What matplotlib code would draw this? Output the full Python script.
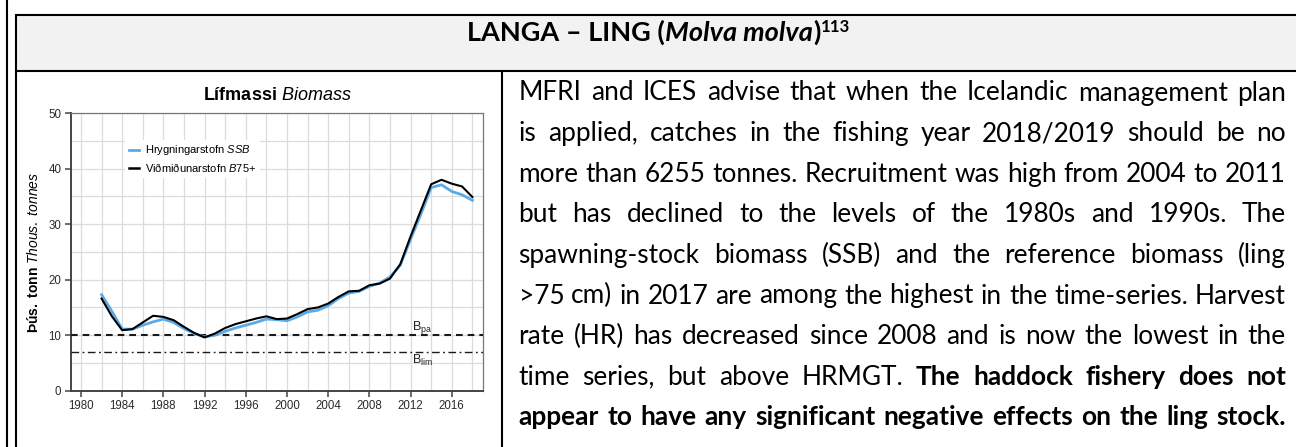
import matplotlib
matplotlib.use('Agg')
import matplotlib.pyplot as plt
from matplotlib.patches import Rectangle
from matplotlib.lines import Line2D

# ---------------- data ----------------
years = list(range(1982, 2019))
ssb = [17.3, 14.3, 11.1, 11.1, 11.8, 12.4, 12.9, 12.3, 11.2, 10.3,
       9.7, 10.0, 10.7, 11.3, 11.8, 12.3, 12.9, 12.8, 12.6, 13.3,
       14.2, 14.5, 15.3, 16.6, 17.6, 17.9, 18.8, 19.4, 20.5, 22.6,
       27.3, 31.8, 36.6, 37.1, 35.9, 35.3, 34.3]
b75 = [16.6, 13.4, 10.9, 11.1, 12.3, 13.5, 13.3, 12.7, 11.5, 10.4,
       9.6, 10.3, 11.3, 12.0, 12.5, 13.0, 13.4, 12.9, 13.0, 13.8,
       14.7, 15.0, 15.7, 16.9, 17.9, 18.0, 19.0, 19.3, 20.2, 22.8,
       27.8, 32.5, 37.2, 38.0, 37.3, 36.8, 34.9]
b_pa = 10.0
b_lim = 7.0
x_ticks = [1980, 1984, 1988, 1992, 1996, 2000, 2004, 2008, 2012, 2016]
y_ticks = [0, 10, 20, 30, 40, 50]
x_grid = list(range(1980, 2020, 2))
y_grid = [5, 15, 25, 35, 45]
legend_labels = ["Hrygningarstofn $\\mathit{SSB}$",
                 "Viðmiðunarstofn $\\mathit{B75{+}}$"]
chart_title = "$\\mathbf{Lífmassi}$ $\\mathit{Biomass}$"
chart_ylabel = "$\\mathbf{Þús.\\ tonn}$ $\\mathit{Thous.\\ tonnes}$"

header_runs = [("LANGA – LING (", "bold", "normal"),
               ("Molva molva", "bold", "italic"),
               (")", "bold", "normal")]
header_sup = "113"

body_lines = [
    [("MFRI and ICES advise that when the Icelandic management plan", False)],
    [("is applied, catches in the fishing year 2018/2019 should be no", False)],
    [("more than 6255 tonnes. Recruitment was high from 2004 to 2011", False)],
    [("but has declined to the levels of the 1980s and 1990s. The", False)],
    [("spawning-stock biomass (SSB) and the reference biomass (ling", False)],
    [(">75 cm) in 2017 are among the highest in the time-series. Harvest", False)],
    [("rate (HR) has decreased since 2008 and is now the lowest in the", False)],
    [("time series, but above HRMGT.", False), ("The haddock fishery does not", True)],
    [("appear to have any significant negative effects on the ling stock.", True)],
]

# ---------------- fonts ----------------
plt.rcParams['font.family'] = ['Liberation Sans', 'DejaVu Sans']
plt.rcParams['mathtext.fontset'] = 'custom'
plt.rcParams['mathtext.rm'] = 'Liberation Sans'
plt.rcParams['mathtext.it'] = 'Liberation Sans:italic'
plt.rcParams['mathtext.bf'] = 'Liberation Sans:bold'
BODY = ['Lato', 'DejaVu Sans']

W, H = 1296, 447
fig = plt.figure(figsize=(W / 100, H / 100), dpi=100)
fig.patch.set_facecolor('white')

# background/overlay axes in pixel coordinates
bg = fig.add_axes([0, 0, 1, 1], zorder=0)
bg.set_xlim(0, W)
bg.set_ylim(H, 0)
bg.axis('off')

bg.add_patch(Rectangle((15.7, 15), W - 15.7, 71.3 - 15,
                       facecolor='#f2f2f2', edgecolor='none'))
blw = 1.5
kw = dict(color='black', lw=blw, solid_capstyle='butt')
bg.plot([6.7, 6.7], [0, H], **kw)
bg.plot([14.9, W], [15, 15], **kw)
bg.plot([14.9, W], [71.3, 71.3], **kw)
bg.plot([15.7, 15.7], [14.2, H], **kw)
bg.plot([501.7, 501.7], [71.3, H], **kw)

renderer = fig.canvas.get_renderer()


def measure(s, size, weight='normal', style='normal', family=BODY):
    t = bg.text(0, 0, s, fontsize=size, fontweight=weight, fontstyle=style,
                family=family)
    w = t.get_window_extent(renderer).width
    t.remove()
    return w


# ---------------- header ----------------
def header_width(size):
    ws = [measure(s, size, wt, st) for s, wt, st in header_runs]
    return ws, measure(header_sup, size * 0.62, 'bold')


ws, wsup = header_width(15)
hsize = 15 * 383.0 / (sum(ws) + wsup)
sup_size = hsize * 0.62
ws, wsup = header_width(hsize)
total = sum(ws) + wsup
x = 658.5 - total / 2
hb = 41
for (s, wt, st), w in zip(header_runs, ws):
    bg.text(x, hb, s, fontsize=hsize, fontweight=wt, fontstyle=st,
            family=BODY, va='baseline', ha='left', color='black')
    x += w
bg.text(x + 0.5, hb - 8.5, header_sup, fontsize=sup_size, fontweight='bold',
        family=BODY, va='baseline', ha='left', color='black')

# ---------------- body text (justified) ----------------
left_px, right_px = 518.5, 1286.0
avail = right_px - left_px
word_lines = []
for line in body_lines:
    words = []
    for seg, bold in line:
        for w in seg.split():
            words.append((w, bold))
    word_lines.append(words)


def natural(words, size):
    wsz = [measure(w, size, 'bold' if b else 'normal') for w, b in words]
    sp = measure('x x', size) - measure('xx', size)
    return sum(wsz) + sp * (len(wsz) - 1)


ref_size = 20.0
mx = max(natural(wl, ref_size) for wl in word_lines)
bsize = ref_size * avail * 0.995 / mx

base0 = 100.5
step = 40.6
for i, words in enumerate(word_lines):
    wsz = [measure(w, bsize, 'bold' if b else 'normal') for w, b in words]
    gap = (avail - sum(wsz)) / (len(wsz) - 1)
    x = left_px
    y = base0 + i * step
    for (w, b), wd in zip(words, wsz):
        bg.text(x, y, w, fontsize=bsize, fontweight='bold' if b else 'normal',
                family=BODY, va='baseline', ha='left', color='black')
        x += wd + gap

# ---------------- chart ----------------
ax_l, ax_r, ax_t, ax_b = 71.0, 483.3, 113.2, 390.7
ax = fig.add_axes([ax_l / W, (H - ax_b) / H, (ax_r - ax_l) / W, (ax_b - ax_t) / H],
                  zorder=2)
ax.set_facecolor('white')
ax.set_xlim(1979.03, 2019.06)
ax.set_ylim(0, 50)

for g in x_grid:
    ax.axvline(g, color='#dcdcdc', lw=0.9, zorder=0)
for g in y_ticks + y_grid:
    ax.axhline(g, color='#dcdcdc', lw=0.9, zorder=0)

ax.set_xticks(x_ticks)
ax.set_yticks(y_ticks)
ax.tick_params(axis='both', direction='out', length=4, width=1.1,
               color='#444444', labelsize=8.3, labelcolor='#2a2a2a', pad=3)

for side in ['left', 'bottom']:
    ax.spines[side].set_color('#444444')
    ax.spines[side].set_linewidth(1.4)
for side in ['top', 'right']:
    ax.spines[side].set_color('#777777')
    ax.spines[side].set_linewidth(0.9)

ax.axhline(b_pa, color='#1a1a1a', lw=1.5, ls=(0, (3.2, 2.4)), zorder=3)
ax.axhline(b_lim, color='#1a1a1a', lw=1.0, ls=(0, (5.5, 2.5, 1.3, 2.5)), zorder=3)

ax.plot(years, ssb, color='#5AAAE8', lw=2.0, zorder=4, solid_joinstyle='round')
ax.plot(years, b75, color='black', lw=1.5, zorder=5, solid_joinstyle='round')

ax.text(2012.1, 10.9, r'B$_{\mathrm{pa}}$', fontsize=9, va='baseline',
        ha='left', color='#222222', zorder=6)
ax.text(2012.1, 4.9, r'B$_{\mathrm{lim}}$', fontsize=9, va='baseline',
        ha='left', color='#222222', zorder=6)

ax.text(0.5, 1 + (ax_t - 99.5) / (ax_b - ax_t), chart_title, transform=ax.transAxes,
        ha='center', va='baseline', fontsize=13, color='black')
ax.text((34 - ax_l) / (ax_r - ax_l), 0.5, chart_ylabel, transform=ax.transAxes,
        rotation=90, ha='center', va='center', fontsize=10, color='black')

handles = [Line2D([], [], color='#5AAAE8', lw=2.0),
           Line2D([], [], color='black', lw=1.8)]
leg = ax.legend(handles, legend_labels, loc='upper left',
                bbox_to_anchor=(0.132, 0.905), fontsize=8, handlelength=0.9,
                handletextpad=0.5, borderpad=0.35, labelspacing=0.3,
                frameon=True, fancybox=False, borderaxespad=0)
leg.get_frame().set_facecolor('white')
leg.get_frame().set_edgecolor('none')
leg.get_frame().set_alpha(1)
leg.set_zorder(7)

fig.savefig('out.png', dpi=100, facecolor='white')
